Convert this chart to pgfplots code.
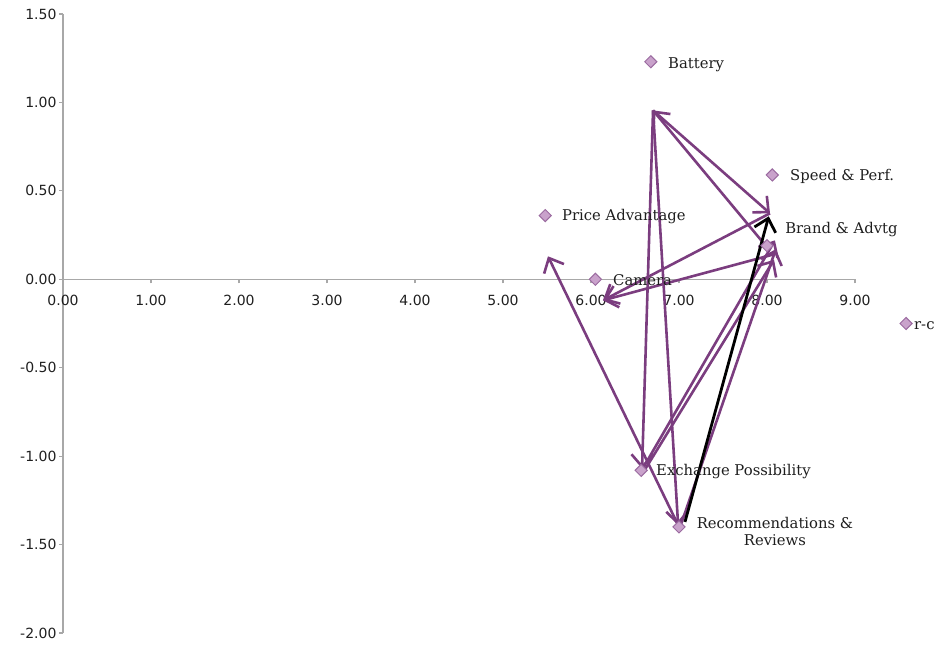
\documentclass[border=0pt]{standalone}
\usepackage{pgfplots}
\pgfplotsset{compat=1.18}
\usetikzlibrary{arrows.meta}
\usepackage{fontspec}
\setmainfont{DejaVu Serif}
\newfontfamily\tickfont{DejaVu Sans}
\definecolor{arrowpurple}{HTML}{7B3D7F}
\definecolor{markfill}{HTML}{C9A2CB}
\definecolor{markdraw}{HTML}{9B6BA0}
\definecolor{axgray}{HTML}{A8A8A8}
\definecolor{labtext}{HTML}{1E1E1E}
\tikzset{
  arr/.style={draw=arrowpurple, line width=2.6pt, -{Straight Barb[length=12pt,width=22pt]}},
  lab/.style={font=\fontsize{14.8}{17.5}\selectfont, text=labtext, anchor=west, inner sep=0pt},
}
\begin{document}
\begin{tikzpicture}
\begin{axis}[name=ax, at={(0,0)}, anchor=south west,
  width=792pt, height=619pt, scale only axis,
  xmin=0, xmax=9, ymin=-2, ymax=1.5,
  axis x line*=middle, axis y line*=left,
  hide obscured x ticks=false, hide obscured y ticks=false,
  xtick={0,1,2,3,4,5,6,7,8,9},
  xticklabels={0.00,1.00,2.00,3.00,4.00,5.00,6.00,7.00,8.00,9.00},
  ytick={-2,-1.5,-1,-0.5,0,0.5,1,1.5},
  yticklabels={-2.00,-1.50,-1.00,-0.50,0.00,0.50,1.00,1.50},
  tick align=outside, major tick length=4pt,
  axis line style={axgray, line width=1.2pt},
  tick style={axgray, line width=1.2pt},
  ticklabel style={font=\tickfont\fontsize{14}{16}\selectfont, text=black!88},
  xticklabel style={yshift=-8pt},
  yticklabel style={xshift=1pt},
  clip=false,
]
% points
\addplot[only marks, mark=square*, mark size=4.3pt,
  mark options={rotate=45, fill=markfill, draw=markdraw, line width=1pt}] table {
x y
6.68 1.23
8.06 0.59
5.48 0.36
6.05 0.00
8.00 0.19
6.57 -1.08
7.00 -1.40
9.58 -0.25
};
% arrows
\addplot[arr, no marks] coordinates {(6.705,0.955) (6.58,-1.07)};
\addplot[arr, no marks] coordinates {(6.705,0.955) (6.99,-1.39)};
\addplot[arr, no marks] coordinates {(6.705,0.955) (8.034,0.373)};
\addplot[arr, no marks] coordinates {(8.0,0.181) (6.705,0.955)};
\addplot[arr, no marks] coordinates {(8.034,0.373) (6.136,-0.119)};
\addplot[arr, no marks] coordinates {(8.07,0.14) (6.136,-0.119)};
\addplot[arr, no marks] coordinates {(7.0,-1.40) (5.511,0.130)};
\addplot[arr, no marks] coordinates {(6.60,-1.06) (8.09,0.22)};
\addplot[arr, no marks] coordinates {(6.62,-1.07) (8.08,0.11)};
\addplot[arr, no marks] coordinates {(7.02,-1.39) (8.10,0.17)};
\addplot[arr, no marks, draw=black, line width=2.8pt] coordinates {(7.068,-1.372) (8.02,0.356)};
% labels
\node[lab] at (axis cs:6.875,1.215) {Battery};
\node[lab] at (axis cs:8.261,0.582) {Speed \& Perf.};
\node[lab] at (axis cs:5.670,0.356) {Price Advantage};
\node[lab] at (axis cs:6.25,-0.006) {Camera};
\node[lab] at (axis cs:8.205,0.283) {Brand \& Advtg};
\node[lab] at (axis cs:6.739,-1.085) {Exchange Possibility};
\node[lab, anchor=center, align=center] at (axis cs:8.09,-1.425) {Recommendations \&\\Reviews};
\node[lab] at (axis cs:9.67,-0.26) {r-c};
\end{axis}
\pgfresetboundingbox
\useasboundingbox ([xshift=-63pt,yshift=-13pt]ax.south west) rectangle ([xshift=81pt,yshift=14pt]ax.north east);
\end{tikzpicture}
\end{document}
